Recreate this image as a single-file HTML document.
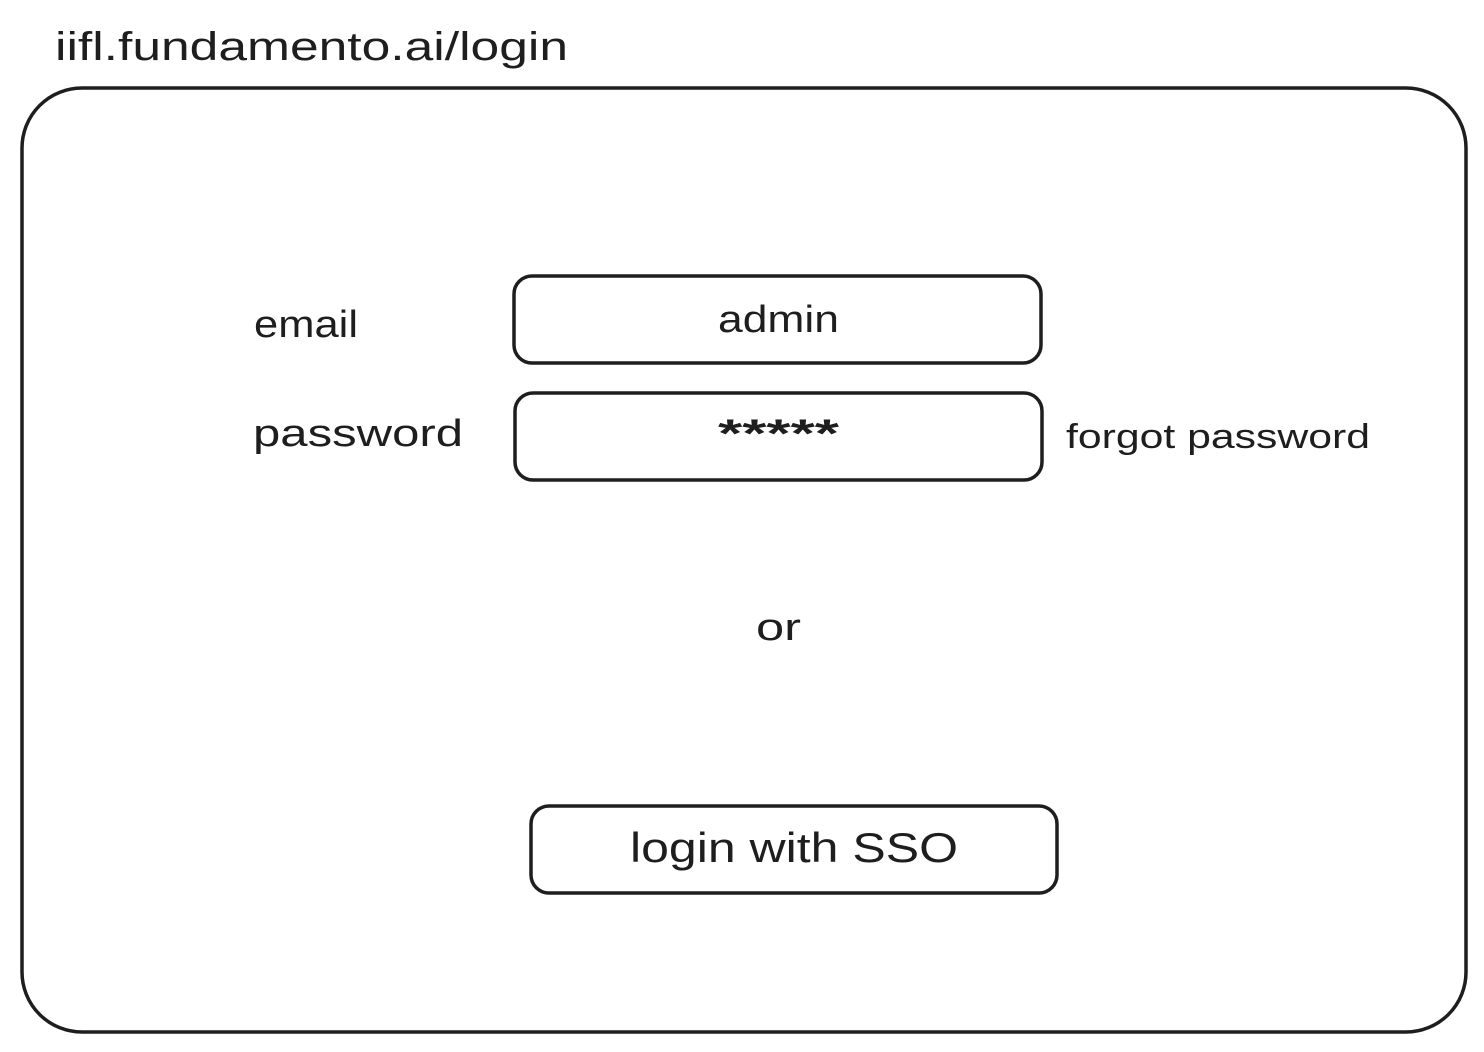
<!DOCTYPE html>
<html>
<head>
<meta charset="utf-8">
<style>
html,body{margin:0;padding:0;background:#fff;}
svg{display:block;}
text{font-family:"Liberation Sans",sans-serif;fill:#1e1e1e;}
</style>
</head>
<body>
<svg width="1484" height="1052" viewBox="0 0 1484 1052" xmlns="http://www.w3.org/2000/svg">
<rect x="0" y="0" width="1484" height="1052" fill="#fff"/>
<g fill="none" stroke="#1e1e1e" stroke-width="3.5" stroke-linejoin="round">
<rect x="22" y="88" width="1444" height="944" rx="60"/>
<rect x="514" y="276" width="527" height="87" rx="18"/>
<rect x="515" y="393" width="527" height="87" rx="18"/>
<rect x="531" y="806" width="526" height="87" rx="18"/>
</g>
<text x="55" y="60" font-size="40" textLength="513" lengthAdjust="spacingAndGlyphs">iifl.fundamento.ai/login</text>
<text x="254" y="337" font-size="38" textLength="104" lengthAdjust="spacingAndGlyphs">email</text>
<text x="253" y="446" font-size="38" textLength="210" lengthAdjust="spacingAndGlyphs">password</text>
<text x="718" y="332" font-size="38" textLength="121" lengthAdjust="spacingAndGlyphs">admin</text>
<text x="718" y="447" font-size="40" font-weight="bold" textLength="121" lengthAdjust="spacingAndGlyphs">*****</text>
<text x="1066" y="448" font-size="34" textLength="304" lengthAdjust="spacingAndGlyphs">forgot password</text>
<text x="756" y="640" font-size="38" textLength="45" lengthAdjust="spacingAndGlyphs">or</text>
<text x="630" y="862" font-size="42" textLength="328" lengthAdjust="spacingAndGlyphs">login with SSO</text>
</svg>
</body>
</html>
